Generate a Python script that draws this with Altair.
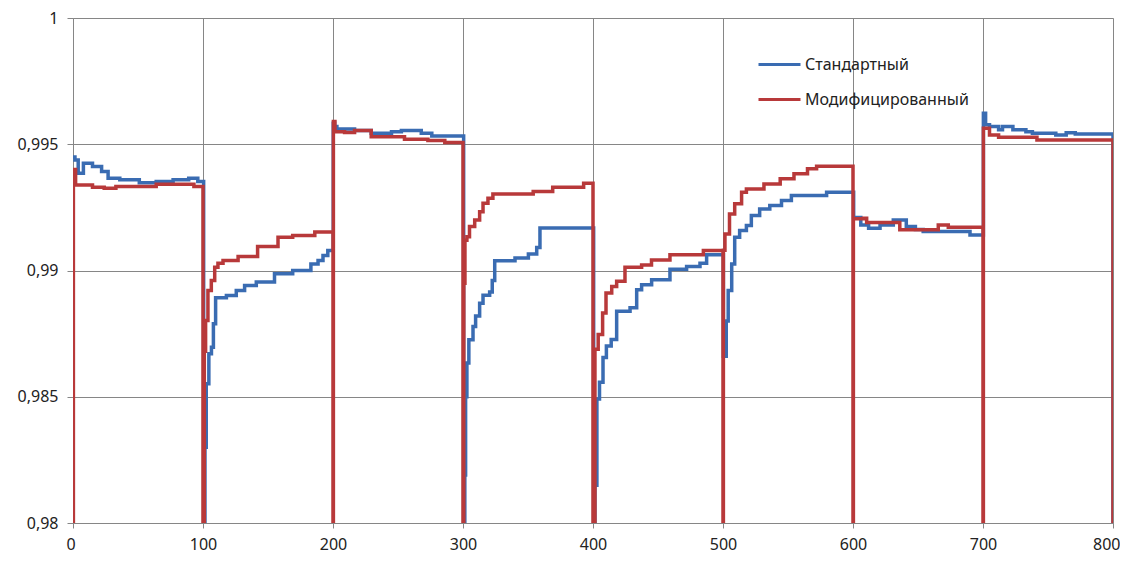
import altair as alt
import pandas as pd

series_names = ["Стандартный", "Модифицированный"]
series_colors = ["#3A6CB2", "#B8393A"]

x_ticks = [0, 100, 200, 300, 400, 500, 600, 700, 800]
y_ticks = [0.98, 0.985, 0.99, 0.995, 1.0]

# Стандартный (blue) — step levels: (x where level starts, value)
blue_x = [0, 1.5, 4, 8, 15, 22, 27, 36, 51, 64, 77, 89, 96,
          100.5, 101.5, 102.5, 104.5, 106.5, 108, 109.7, 118, 125.6, 132, 141, 155, 169, 183, 188.5, 192.3, 196,
          200.2, 201.2, 203, 216.6, 229.4, 245, 252.6, 267.9, 276,
          300.5, 301.4, 302, 303, 304.5, 307.7, 309.7, 312.8, 315.4, 320.5, 322.5, 324.4, 340, 350.3, 356.7, 359.2,
          400.5, 401.5, 403, 405, 407.7, 410.3, 414, 418.2, 428.5, 433.6, 437.4, 445.1, 459.2, 472, 482.3, 487.4,
          500.3, 502.5, 504, 506.7, 509, 512.8, 518, 521.8, 528.2, 536, 545, 552.6, 579.7,
          600.5, 606, 612, 620.8, 631, 641, 648, 654, 690,
          700.3, 702, 705, 712, 715, 723, 733, 738, 756, 764, 771, 800]
blue_y = [0.9945, 0.99438, 0.99385, 0.99425, 0.99412, 0.99392, 0.99365, 0.99359, 0.99348, 0.99352, 0.99359, 0.99365, 0.99352,
          0.975, 0.983, 0.98551, 0.9867, 0.98696, 0.98789, 0.98892, 0.98901, 0.98921, 0.98941, 0.98954, 0.98987, 0.99, 0.99026, 0.9904, 0.99059, 0.99079,
          0.99583, 0.9957, 0.9956, 0.99554, 0.99544, 0.9955, 0.99554, 0.99544, 0.99533,
          0.975, 0.9819, 0.985, 0.98634, 0.98726, 0.98778, 0.9882, 0.9887, 0.98902, 0.98915, 0.9896, 0.99039, 0.9905, 0.99065, 0.99091, 0.99168,
          0.975, 0.9815, 0.98491, 0.98557, 0.98655, 0.98701, 0.98727, 0.98839, 0.98852, 0.98924, 0.98944, 0.98963, 0.99005, 0.99016, 0.99029, 0.99062,
          0.9866, 0.988, 0.98921, 0.99026, 0.99132, 0.99158, 0.99178, 0.99218, 0.99244, 0.99257, 0.99277, 0.99297, 0.9931,
          0.9921, 0.9918, 0.99167, 0.9918, 0.992, 0.99174, 0.99162, 0.99154, 0.99141,
          0.99623, 0.99577, 0.9957, 0.99557, 0.9957, 0.99557, 0.9955, 0.99544, 0.99537, 0.99546, 0.99541, 0.975]

# Модифицированный (red)
red_x = [0, 0.3, 2, 15, 24, 33, 64, 93,
         100, 101, 102, 103.8, 106.4, 109, 111.5, 115.4, 127, 142, 157.7, 169, 186,
         200, 200.3, 201.5, 208.9, 216.6, 229.4, 255, 273, 286,
         300, 300.6, 301.5, 303, 305, 309, 312.8, 315.4, 319.2, 323, 354, 369, 392.8,
         400, 401.5, 404, 407.4, 410, 414.4, 418.2, 424.6, 437.4, 445, 459.2, 484.9,
         500, 500.3, 501.5, 505, 509, 514.3, 518, 531.5, 544, 554.6, 565, 572,
         600, 600.3, 608, 610.5, 636, 665.6, 673.3,
         700, 700.3, 705, 712, 741.5, 800]
red_y = [0.975, 0.9940, 0.99339, 0.9933, 0.99326, 0.99333, 0.99342, 0.99333,
         0.975, 0.9868, 0.98802, 0.98921, 0.9896, 0.99013, 0.99029, 0.9904, 0.99055, 0.99095, 0.99132, 0.99139, 0.99152,
         0.975, 0.9959, 0.9955, 0.99547, 0.99554, 0.9953, 0.9952, 0.99515, 0.99507,
         0.975, 0.9895, 0.9912, 0.99134, 0.99174, 0.992, 0.99233, 0.99266, 0.99286, 0.99303, 0.99313, 0.9933, 0.99346,
         0.975, 0.98688, 0.98747, 0.98832, 0.98911, 0.98937, 0.98957, 0.99013, 0.99022, 0.99042, 0.99062, 0.99079,
         0.975, 0.9908, 0.99145, 0.99224, 0.99264, 0.9931, 0.99323, 0.99343, 0.99363, 0.99383, 0.99403, 0.99413,
         0.975, 0.99205, 0.99207, 0.9919, 0.99161, 0.9918, 0.99171,
         0.975, 0.99563, 0.99537, 0.99528, 0.99517, 0.975]

blue_df = pd.DataFrame({"x": blue_x, "y": blue_y, "series": series_names[0]})
red_df = pd.DataFrame({"x": red_x, "y": red_y, "series": series_names[1]})

FONT = "Noto Sans"
GRID = "#868686"
TXT = "#222222"

x_enc = alt.X("x:Q", scale=alt.Scale(domain=[0, 800], nice=False),
              axis=alt.Axis(values=x_ticks, title=None, grid=True, gridColor=GRID, gridWidth=1,
                            domainColor=GRID, tickColor=GRID, tickSize=5, labelPadding=8,
                            labelFlush=True, labelFlushOffset=7,
                            labelFont=FONT, labelFontSize=16, labelColor=TXT))
y_enc = alt.Y("y:Q", scale=alt.Scale(domain=[0.98, 1.0], nice=False, zero=False),
              axis=alt.Axis(values=y_ticks, title=None, grid=True, gridColor=GRID, gridWidth=1,
                            domainColor=GRID, tickColor=GRID, tickSize=6, labelPadding=9,
                            labelFont=FONT, labelFontSize=16, labelColor=TXT,
                            labelExpr="replace(format(datum.value, '~g'), '.', ',')"))
color_enc = alt.Color("series:N",
                      scale=alt.Scale(domain=series_names, range=series_colors),
                      legend=alt.Legend(title=None, orient="none", legendX=684, legendY=24,
                                        symbolType="stroke", symbolSize=1764, symbolStrokeWidth=3,
                                        rowPadding=4, labelOffset=3, padding=0, labelLimit=400,
                                        labelFont=FONT, labelFontSize=16, labelColor=TXT))

blue = alt.Chart(blue_df).mark_line(interpolate="step-after", strokeWidth=3.5, clip=True).encode(
    x=x_enc, y=y_enc, color=color_enc)
red = alt.Chart(red_df).mark_line(interpolate="step-after", strokeWidth=3.5, clip=True).encode(
    x=x_enc, y=y_enc, color=color_enc)

chart = alt.layer(blue, red).properties(
    width=1040, height=505,
    autosize=alt.AutoSizeParams(type="none"),
    padding={"left": 65, "top": 10, "right": 7, "bottom": 30},
).configure_view(stroke=None).configure(background="white")

chart.save("out.html", embed_options={"renderer": "svg", "actions": False})
